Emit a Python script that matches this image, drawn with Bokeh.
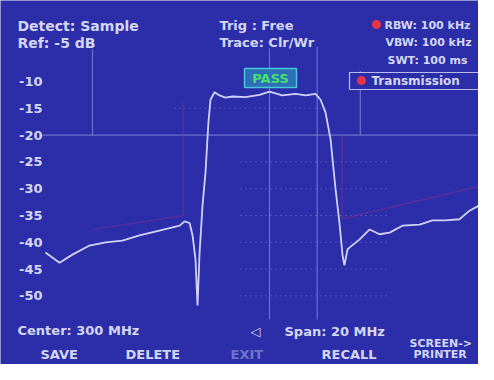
from bokeh.plotting import figure
from bokeh.models import Range1d, Label
from bokeh.embed import file_html
from bokeh.resources import INLINE

# ---- data ----
freq_mhz = [290.13, 290.75, 291.32, 292.07, 292.78, 293.52, 294.27, 295.15, 296.04, 296.26,
            296.48, 296.61, 296.74, 296.83, 296.92, 297.05, 297.18, 297.31, 297.40, 297.58,
            297.80, 298.06, 298.37, 298.94, 299.56, 300.00, 300.57, 301.15, 301.59, 302.03,
            302.25, 302.47, 302.69, 302.91, 303.08, 303.22, 303.30, 303.44, 303.52, 303.96,
            304.41, 304.85, 305.29, 305.86, 306.61, 307.18, 307.75, 308.37, 308.81, 309.25, 309.56]
level_db = [-41.9, -43.8, -42.3, -40.6, -40.0, -39.7, -38.7, -37.8, -36.9, -36.1,
            -36.4, -38.7, -43.2, -51.8, -41.9, -33.1, -27.0, -17.6, -13.4, -12.0,
            -12.6, -13.0, -12.8, -12.9, -12.5, -11.9, -12.6, -12.3, -12.6, -12.3,
            -13.4, -15.8, -20.8, -30.1, -36.3, -42.5, -44.3, -41.3, -41.0, -39.5,
            -37.6, -38.5, -38.2, -36.9, -36.7, -35.9, -35.9, -35.7, -34.1, -33.1, -33.4]

y_ticks = [-10, -15, -20, -25, -30, -35, -40, -45, -50]
y_tick_labels = ["-10", "-15", "-20", "-25", "-30", "-35", "-40", "-45", "-50"]

# limit mask (faint red)
mask_left_x = [292.2, 296.2, 296.2]
mask_left_y = [-37.6, -35.0, -14.0]
mask_right_x = [303.2, 303.2, 309.4]
mask_right_y = [-20.0, -35.6, -29.4]

# marker / reference lines
marker_x = [292.2, 300.0, 302.1, 304.0]
marker_top = [-4.0, -3.8, -3.5, -8.0]
marker_bottom = [-20.0, -54.4, -54.4, -20.0]
ref_level = -20

grat_levels = [-15, -25, -30, -35, -40, -45, -50]
grat_start = [295.8, 298.7, 298.7, 298.7, 298.7, 298.7, 298.7]
grat_end = [302.5, 305.3, 305.3, 305.3, 305.3, 305.3, 305.3]

# ---- layout helpers (pixel -> data for annotations) ----
X0_PX, X_PER_MHZ = 50, 22.7
Y0_PX, Y_PER_DB = 89, 5.36
def px_x(px):
    return 290 + (px - X0_PX) / X_PER_MHZ
def px_y(py):
    return -10 - (py - Y0_PX) / Y_PER_DB

BLUE = "#2b2ea8"
TXT = "#d4d7f4"
FONT = "DejaVu Sans"

p = figure(width=478, height=364, output_backend="svg", toolbar_location=None,
           x_range=Range1d(px_x(8), px_x(486)), y_range=Range1d(px_y(372), px_y(8)),
           min_border_left=0, min_border_right=0, min_border_top=0, min_border_bottom=0)
p.background_fill_color = BLUE
p.border_fill_color = BLUE
p.outline_line_color = None
p.xaxis.visible = False
p.yaxis.visible = False
p.xgrid.visible = False
p.ygrid.visible = False

# y tick labels (drawn through the y scale)
p.text(x=[px_x(50)] * len(y_ticks), y=y_ticks, text=y_tick_labels,
       text_color=TXT, text_font={"value": FONT}, text_font_style="bold",
       text_font_size="13px", text_align="right", text_baseline="middle")

# graticule
p.segment(x0=grat_start, x1=grat_end, y0=grat_levels, y1=grat_levels,
          line_color="#9fa6ee", line_alpha=0.3, line_width=1, line_dash="2 3")
p.segment(x0=[290], x1=[310], y0=[ref_level], y1=[ref_level],
          line_color="#aab0f0", line_alpha=0.5, line_width=1.2)
p.segment(x0=marker_x, x1=marker_x, y0=marker_bottom, y1=marker_top,
          line_color="#aab0f0", line_alpha=0.5, line_width=1.2)

# limit mask
p.line(mask_left_x, mask_left_y, line_color="#8c2f8c", line_alpha=0.45, line_width=1.6)
p.line(mask_right_x, mask_right_y, line_color="#8c2f8c", line_alpha=0.45, line_width=1.6)

# trace
p.line(freq_mhz, level_db, line_color="#cfd3fa", line_width=1.8)

# PASS box
p.quad(left=[px_x(252)], right=[px_x(304)], top=[px_y(76)], bottom=[px_y(95)],
       fill_color="#2f74b8", fill_alpha=0.9, line_color="#46c8d8", line_width=1.5)
p.add_layout(Label(x=px_x(278), y=px_y(86), text="PASS", text_color="#45e070",
                   text_font=FONT, text_font_style="bold", text_font_size="13px",
                   text_align="center", text_baseline="middle"))

# Transmission box
p.quad(left=[px_x(357)], right=[px_x(500)], top=[px_y(80)], bottom=[px_y(97)],
       fill_color=BLUE, fill_alpha=1.0, line_color="#b8bcf0", line_width=1.2)
p.scatter(x=[px_x(369), px_x(384)], y=[px_y(88), px_y(32)], size=9,
          fill_color="#e8344a", line_color=None)

def txt(s, x, y, color=TXT, size="13px", align="left"):
    p.add_layout(Label(x=px_x(x), y=px_y(y), text=s, text_color=color,
                       text_font=FONT, text_font_style="bold", text_font_size=size,
                       text_align=align, text_baseline="middle"))

txt("Detect: Sample", 25, 33, size="14px")
txt("Ref: -5 dB", 25, 50, size="14px")
txt("Trig  : Free", 227, 33)
txt("Trace: Clr/Wr", 227, 50)
txt("RBW: 100 kHz", 392, 33, size="11px")
txt("VBW: 100 kHz", 393, 50, size="11px")
txt("SWT: 100 ms", 395, 68, size="11px")
txt("Transmission", 379, 88, size="12px")
txt("Center: 300 MHz", 25, 338)
txt("\u25c1", 258, 339)
txt("Span: 20 MHz", 292, 339)
txt("SAVE", 48, 362)
txt("DELETE", 133, 362)
txt("EXIT", 238, 362, color="#6f74c8")
txt("RECALL", 329, 362)
txt("SCREEN->", 417, 351, size="11px")
txt("PRINTER", 421, 362, size="11px")

open("out.html", "w").write(file_html(p, INLINE))
